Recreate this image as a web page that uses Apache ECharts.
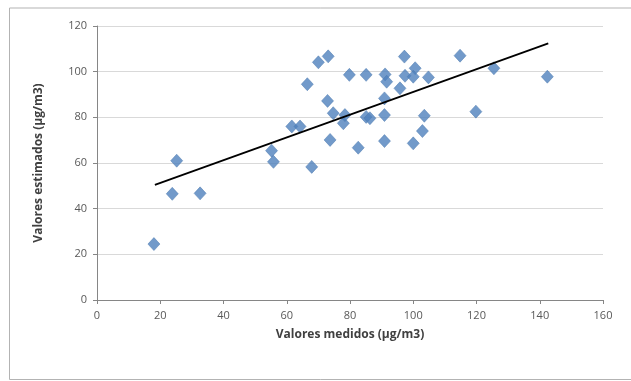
<!DOCTYPE html>
<html>
<head>
<meta charset="utf-8">
<script src="https://cdn.jsdelivr.net/npm/echarts@6/dist/echarts.min.js"></script>
<style>html,body{margin:0;padding:0;background:#fff;}#c{width:631px;height:381px;}</style>
</head>
<body>
<div id="c"></div>
<script>
const measured = [18.0, 23.8, 25.2, 32.6, 55.2, 55.8, 61.6, 64.2, 66.5, 67.9, 70.0, 73.1, 72.9, 74.7, 73.7, 77.9, 78.4, 79.8, 82.6, 85.1, 85.1, 86.3, 90.9, 91.1, 91.6, 90.9, 90.9, 95.8, 97.2, 97.4, 100.6, 100.0, 104.8, 100.0, 102.9, 103.5, 114.8, 119.8, 125.5, 142.4];
const estimated = [24.5, 46.5, 61.0, 46.7, 65.4, 60.5, 76.0, 76.0, 94.5, 58.3, 104.1, 106.7, 87.2, 81.8, 70.1, 77.4, 81.0, 98.6, 66.7, 98.6, 80.2, 79.6, 69.6, 98.8, 95.6, 88.3, 81.0, 92.7, 106.6, 98.2, 101.5, 97.8, 97.5, 68.6, 74.0, 80.7, 107.0, 82.5, 101.5, 97.8];
const trendX = [18.3, 142.7];
const trendY = [50.4, 112.4];
const xTicks = [0, 20, 40, 60, 80, 100, 120, 140, 160];
const yTicks = [0, 20, 40, 60, 80, 100, 120];
const xTitle = 'Valores medidos (µg/m3)';
const yTitle = 'Valores estimados (µg/m3)';

const points = measured.map((x, i) => [x, estimated[i]]);
const trend = trendX.map((x, i) => [x, trendY[i]]);

const chart = echarts.init(document.getElementById('c'), null, {renderer: 'canvas'});
const font = '"Open Sans", "Noto Sans", sans-serif';
chart.setOption({
  animation: false,
  backgroundColor: '#ffffff',
  graphic: [{
    type: 'rect', left: 7, top: 5.5, shape: {width: 640, height: 371.5},
    style: {fill: 'none', stroke: '#b3b3b3', lineWidth: 1}, silent: true, z: -1
  }],
  grid: {left: 97, right: 28, top: 26, bottom: 81, containLabel: false},
  xAxis: {
    type: 'value', min: xTicks[0], max: xTicks[xTicks.length - 1], interval: 20,
    name: xTitle, nameLocation: 'middle', nameGap: 29,
    nameTextStyle: {fontFamily: font, fontSize: 12, fontWeight: 'bold', color: '#404040'},
    axisLine: {show: true, onZero: false, lineStyle: {color: '#868686', width: 1}},
    axisTick: {show: true, length: 4, lineStyle: {color: '#868686'}},
    axisLabel: {fontFamily: font, fontSize: 11, color: '#595959', margin: 10},
    splitLine: {show: false}
  },
  yAxis: {
    type: 'value', min: yTicks[0], max: yTicks[yTicks.length - 1], interval: 20,
    name: yTitle, nameLocation: 'middle', nameGap: 52,
    nameTextStyle: {fontFamily: font, fontSize: 12, fontWeight: 'bold', color: '#404040'},
    axisLine: {show: true, lineStyle: {color: '#868686', width: 1}},
    axisTick: {show: true, length: 4, lineStyle: {color: '#868686'}},
    axisLabel: {fontFamily: font, fontSize: 11, color: '#595959', margin: 10},
    splitLine: {show: true, lineStyle: {color: '#d9d9d9', width: 1}}
  },
  series: [{
    type: 'scatter', data: points, symbol: 'diamond', symbolSize: [12, 13],
    itemStyle: {color: '#4F81BD', borderColor: '#4776ad', borderWidth: 0.6}, z: 2
  }, {
    type: 'line', data: trend, showSymbol: false, symbol: 'none',
    lineStyle: {color: '#000000', width: 1.8}, z: 3
  }]
});
</script>
</body>
</html>
